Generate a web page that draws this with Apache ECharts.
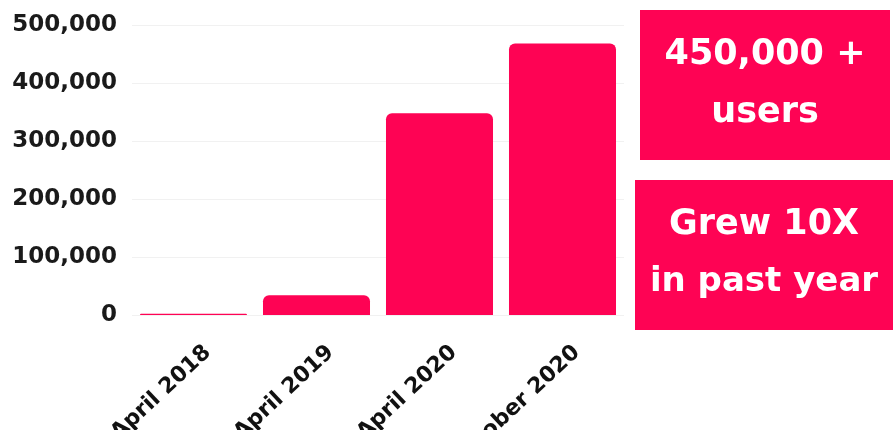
<!DOCTYPE html>
<html><head><meta charset="utf-8">
<script src="https://cdn.jsdelivr.net/npm/echarts@6/dist/echarts.min.js"></script>
<style>html,body{margin:0;padding:0;background:#fff}#c{width:895px;height:430px}</style>
</head><body><div id="c"></div>
<script>
const categories = ['April 2018', 'April 2019', 'April 2020', 'October 2020'];
const users = [2000, 34000, 348000, 468000];
const yTicks = [0, 100000, 200000, 300000, 400000, 500000];
const box1Lines = ['450,000 +', 'users'];
const box2Lines = ['Grew 10X', 'in past year'];

const FONT = 'DejaVu Sans';
const PINK = '#fe0354';
const chart = echarts.init(document.getElementById('c'));
chart.setOption({
  animation: false,
  grid: { left: 132, right: 271, top: 25, bottom: 115, containLabel: false, outerBoundsMode: 'none' },
  xAxis: {
    type: 'category', data: categories,
    axisLine: { show: false }, axisTick: { show: false },
    axisLabel: { rotate: 43, margin: 19, align: 'right', verticalAlign: 'top', padding: [10, 0, 0, 0],
      fontFamily: FONT, fontWeight: 'bold', fontSize: 22, color: '#111', interval: 0 }
  },
  yAxis: {
    type: 'value', min: yTicks[0], max: yTicks[yTicks.length - 1], interval: yTicks[1] - yTicks[0],
    axisLine: { show: false }, axisTick: { show: false },
    splitLine: { lineStyle: { color: '#f1f1f1', width: 1 } },
    axisLabel: { margin: 15, fontFamily: FONT, fontWeight: 'bold', fontSize: 23, color: '#1a1a1a',
      formatter: v => v.toLocaleString('en-US') }
  },
  series: [{
    type: 'bar', data: users, barCategoryGap: '13%',
    itemStyle: { color: PINK, borderRadius: [6, 6, 0, 0] }
  }],
  graphic: [
    { type: 'rect', shape: { x: 640, y: 10, width: 250, height: 150 }, style: { fill: PINK } },
    { type: 'rect', shape: { x: 635, y: 180, width: 258, height: 150 }, style: { fill: PINK } },
    { type: 'text', x: 765, y: 55, style: { text: box1Lines[0], fill: '#fff', font: 'bold 35px ' + FONT, textAlign: 'center', textVerticalAlign: 'middle' } },
    { type: 'text', x: 765, y: 113, style: { text: box1Lines[1], fill: '#fff', font: 'bold 35px ' + FONT, textAlign: 'center', textVerticalAlign: 'middle' } },
    { type: 'text', x: 764, y: 225, style: { text: box2Lines[0], fill: '#fff', font: 'bold 35px ' + FONT, textAlign: 'center', textVerticalAlign: 'middle' } },
    { type: 'text', x: 764, y: 282, style: { text: box2Lines[1], fill: '#fff', font: 'bold 34px ' + FONT, textAlign: 'center', textVerticalAlign: 'middle' } }
  ]
});
</script></body></html>
